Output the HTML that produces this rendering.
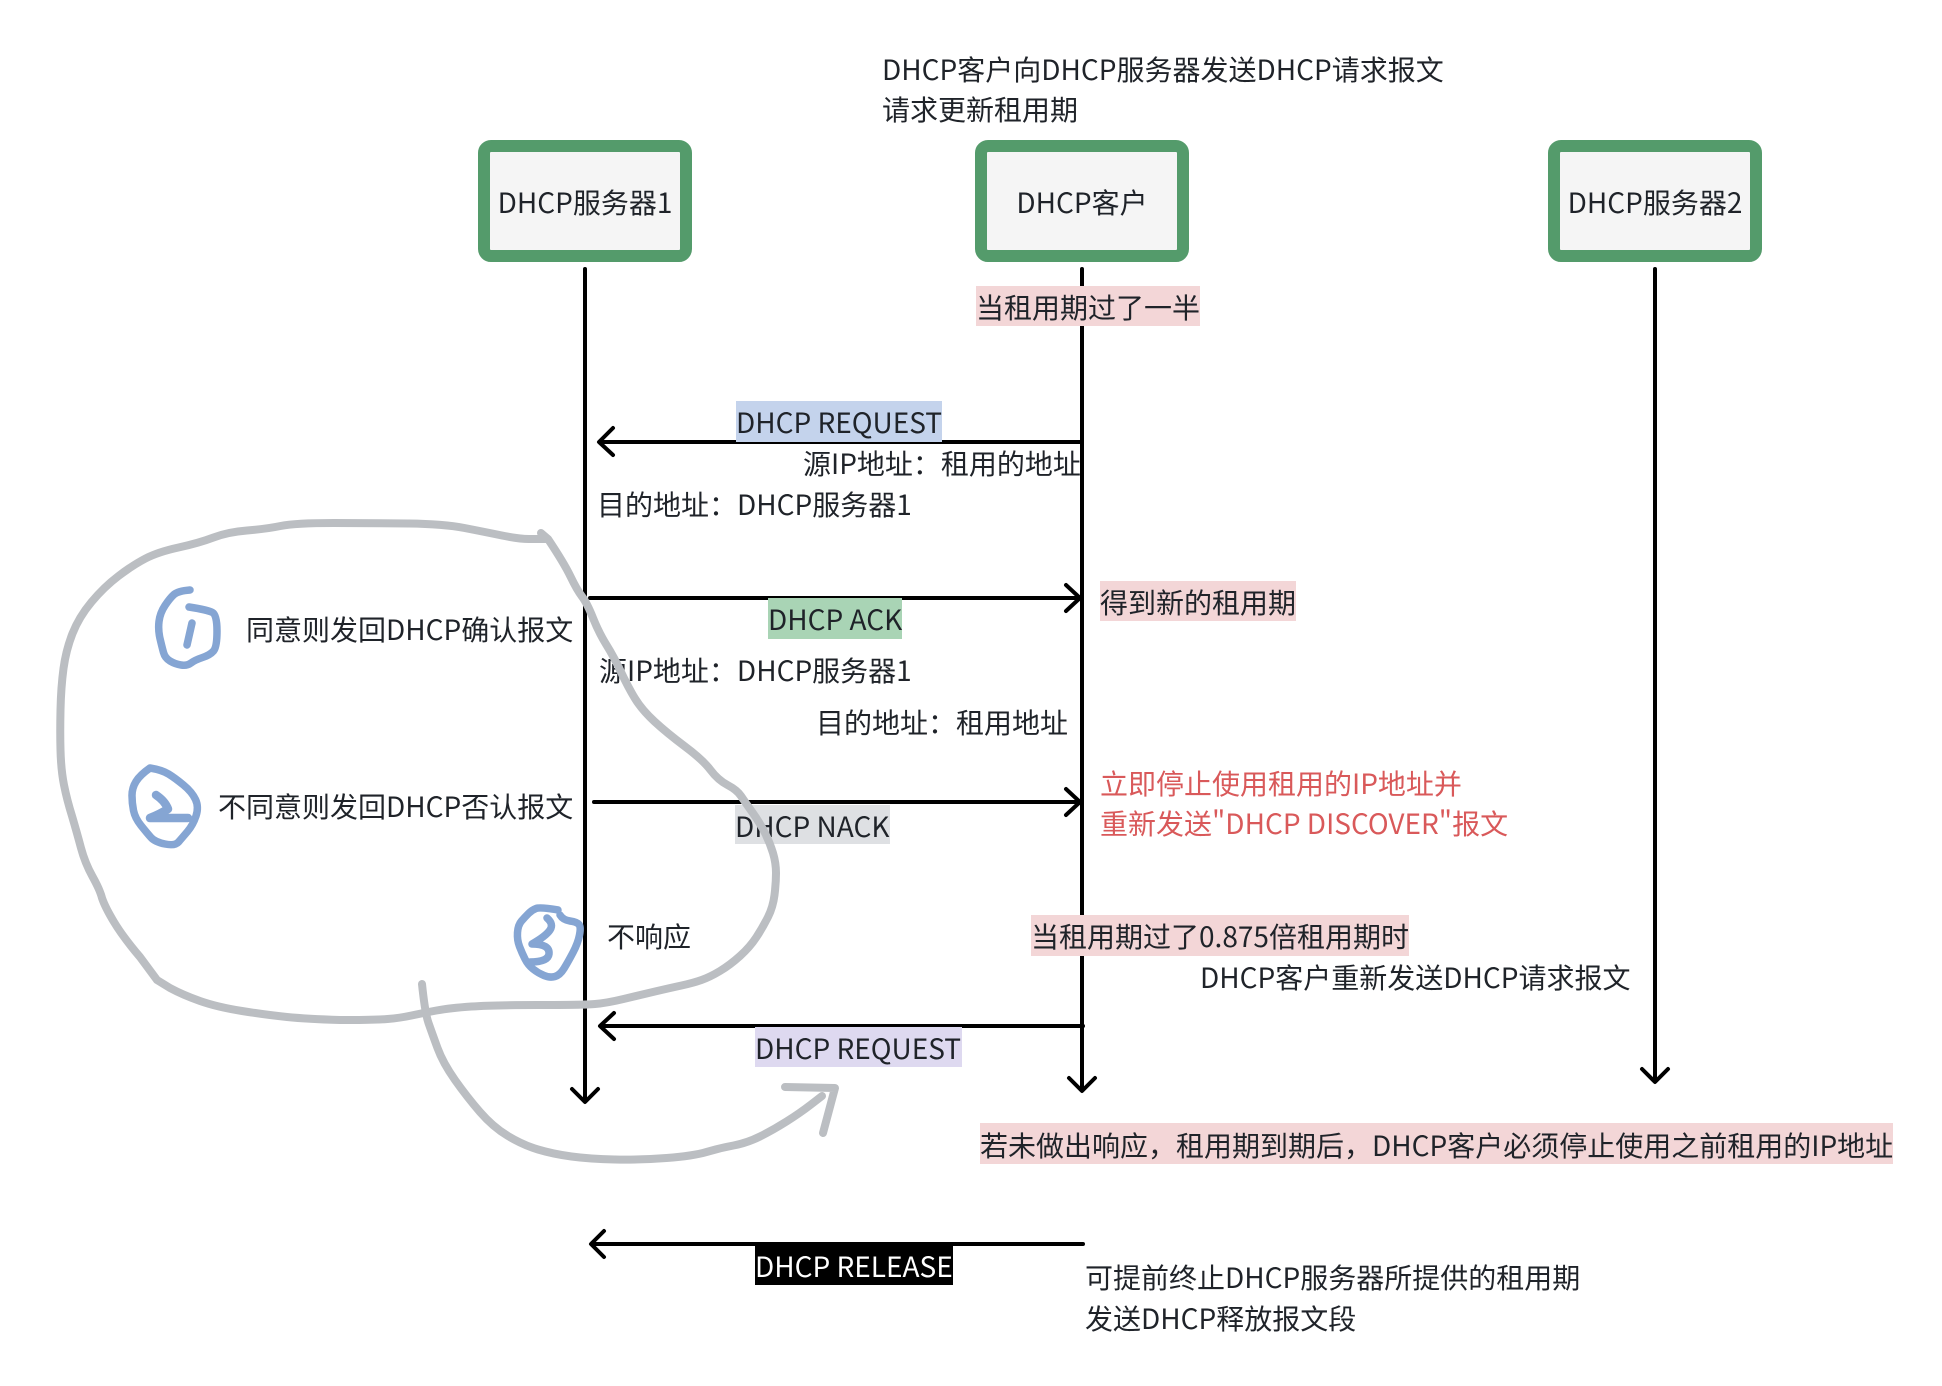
<!DOCTYPE html>
<html lang="zh">
<head>
<meta charset="utf-8">
<title>DHCP</title>
<style>
html,body{margin:0;padding:0;background:#fff}
#p{position:relative;width:1942px;height:1386px;overflow:hidden;background:#fff;font-family:"Noto Sans CJK SC","Liberation Sans",sans-serif;font-size:28px;color:#1f2329}
.t{position:absolute;line-height:43px;height:41px;white-space:nowrap}
.c{text-align:center;width:260px}
.r{color:#d9595a}
svg{position:absolute;left:0;top:0}
</style>
</head>
<body>
<div id="p">
<svg width="1942" height="1386" viewBox="0 0 1942 1386" fill="none">
<g stroke="#549b6b" stroke-width="12" fill="#f5f5f5">
<rect x="484" y="146" width="202" height="110" rx="7"/>
<rect x="981" y="146" width="202" height="110" rx="7"/>
<rect x="1554" y="146" width="202" height="110" rx="7"/>
</g>
<g stroke="#000" stroke-width="4" stroke-linecap="round" stroke-linejoin="round">
<path d="M585 269V1101M572 1089L585 1102L598 1089"/>
<path d="M1082 269V1090M1069 1078L1082 1091L1095 1078"/>
<path d="M1655 269V1081M1642 1069L1655 1082L1668 1069"/>
<path d="M1081 442H600M613 428L599 442L613 455"/>
<path d="M590 598H1080M1066 585L1080 598L1066 611"/>
<path d="M594 802H1080M1066 789L1080 802L1066 815"/>
<path d="M1083 1026H601M614 1013L600 1026L614 1039"/>
<path d="M1083 1244H592M604 1231L591 1244L604 1257"/>
</g>
</svg>

<div class="t" style="left:882px;top:48px">DHCP客户向DHCP服务器发送DHCP请求报文</div>
<div class="t" style="left:882px;top:88px">请求更新租用期</div>
<div class="t c" style="left:455px;top:181px">DHCP服务器1</div>
<div class="t c" style="left:952px;top:181px">DHCP客户</div>
<div class="t c" style="left:1525px;top:181px">DHCP服务器2</div>

<div class="t" style="left:976px;top:286px;width:224px;height:40px;background:#f3d6d7">当租用期过了一半</div>
<div class="t" style="left:736px;top:401px;width:206px;background:#c4d3ec">DHCP REQUEST</div>
<div class="t" style="left:803px;top:442px">源IP地址：租用的地址</div>
<div class="t" style="left:597px;top:483px">目的地址：DHCP服务器1</div>
<div class="t" style="left:768px;top:598px;width:134px;background:#a9d4b5">DHCP ACK</div>
<div class="t" style="left:1100px;top:581px;width:196px;height:40px;background:#f3d6d7">得到新的租用期</div>
<div class="t" style="left:599px;top:649px">源IP地址：DHCP服务器1</div>
<div class="t" style="left:816px;top:701px">目的地址：租用地址</div>
<div class="t r" style="left:1100px;top:762px">立即停止使用租用的IP地址并</div>
<div class="t r" style="left:1100px;top:802px">重新发送"DHCP DISCOVER"报文</div>
<div class="t" style="left:735px;top:805px;width:155px;height:39px;background:#dee0e3">DHCP NACK</div>
<div class="t" style="left:246px;top:608px">同意则发回DHCP确认报文</div>
<div class="t" style="left:218px;top:785px">不同意则发回DHCP否认报文</div>
<div class="t" style="left:607px;top:915px">不响应</div>
<div class="t" style="left:1031px;top:915px;width:378px;background:#f3d6d7">当租用期过了0.875倍租用期时</div>
<div class="t" style="left:1200px;top:956px">DHCP客户重新发送DHCP请求报文</div>
<div class="t" style="left:755px;top:1027px;width:207px;height:40px;background:#ded9f0">DHCP REQUEST</div>
<div class="t" style="left:980px;top:1123px;width:913px;line-height:44px;background:#f3d6d7">若未做出响应，租用期到期后，DHCP客户必须停止使用之前租用的IP地址</div>
<div class="t" style="left:755px;top:1245px;width:198px;height:40px;background:#000;color:#fff">DHCP RELEASE</div>
<div class="t" style="left:1085px;top:1256px">可提前终止DHCP服务器所提供的租用期</div>
<div class="t" style="left:1085px;top:1297px">发送DHCP释放报文段</div>

<svg width="1942" height="1386" viewBox="0 0 1942 1386" fill="none" stroke-linecap="round" stroke-linejoin="round">
<g stroke="#bbbec2" stroke-width="8">
<path d="M541 533L548 539Q564,563 570.5,576.5 Q577,590 582,596.5 Q587,603 593,618 Q599,633 606.5,645 Q614,657 621,672 Q628,687 635,698.5 Q642,710 654.5,721.5 Q667,733 685,746.5 Q703,760 710.5,770 Q718,780 727.5,785 Q737,790 741,796 Q745,802 752.5,812.5 Q760,823 765,833 Q770,843 773,853 Q776,863 776,873 Q776,883 774.5,895 Q773,907 768,917 Q763,927 756.5,937 Q750,947 740,956 Q730,965 720,971 Q710,977 701.5,980 Q693,983 681.5,985.5 Q670,988 655,991.5 Q640,995 623.5,999 Q607,1003 595,1004 Q583,1005 538,1005 Q493,1005 471.5,1006.5 Q450,1008 436.5,1010.5 Q423,1013 411.5,1015.5 Q400,1018 387.5,1019 Q375,1020 340,1020 Q307,1019 287,1017 Q267,1015 242,1011 Q217,1007 200,1001 Q183,995 170,988 L157 980 L140 957 Q123,937 114,922 Q105,907 102,898 Q100,890 92.5,876.5 Q85,863 81,848 Q77,833 72,816 Q67,800 64,785 Q61,770 60.5,750 Q60,733 60.5,710 Q61,687 63.5,668.5 Q66,650 72.5,633.5 Q79,617 91.5,602 Q104,587 118.5,576 Q133,565 145.5,558.5 Q158,552 178.5,547.5 Q199,543 213.5,537.5 Q228,532 247,530.5 Q266,529 280.5,526 Q295,523 334,523 Q373,523 408.5,523.5 Q444,524 464.5,528 Q485,532 502,535.5 Q519,539 529,539 L548,539"/>
<path d="M422 984 Q425,1013 428.5,1023 Q432,1033 437.5,1048 Q443,1063 455,1080 Q467,1097 480,1112 Q493,1127 508,1136 Q523,1145 538,1149.5 Q553,1154 571.5,1156.5 Q590,1159 615,1159.5 Q640,1160 666.5,1158 Q693,1156 706.5,1152 Q720,1148 733.5,1145.5 Q747,1143 760,1136.5 Q773,1130 786.5,1121.5 Q800,1113 811,1104.5 L822,1096"/>
<path d="M785 1087L835 1088L823 1133"/>
</g>
<g stroke="#85a5d3" stroke-width="7.5">
<path d="M190 590 Q178,591 174,594.5 Q170,598 165,605.5 Q160,613 159,621.5 Q158,630 160,638.5 Q162,647 163.5,652.5 Q165,658 170,661 Q175,664 181,665 Q187,666 191,663 Q195,660 202.5,657.5 Q210,655 213.5,651 Q217,647 217,631 Q217,615 212.5,612.5 Q208,610 189,607"/>
<path d="M192 623L187 645"/>
<path d="M150 768 Q140,775 136,781.5 Q132,788 132,795.5 Q132,803 133.5,810.5 Q135,818 141,825.5 Q147,833 151,837.5 Q155,842 165,844 Q175,846 178.5,842 Q182,838 187.5,831.5 Q193,825 196,816 Q199,807 195.5,799.5 Q192,792 183.5,785 Q175,778 168.5,774 Q162,770 150,768"/>
<path d="M156 795Q165 801 168 809Q160 814 150 818L188 818" stroke-width="8.5"/>
<path d="M558 910 Q540,907 536,908.5 Q532,910 528.5,913.5 Q525,917 521.5,921 Q518,925 517.5,932.5 Q517,940 519.5,946.5 Q522,953 525,959 Q528,965 533,969 Q538,973 544,975.5 Q550,978 555,976.5 Q560,975 564,968.5 Q568,962 573,952.5 Q578,943 579.5,935 Q581,927 579,924.5 Q577,922 570,921 Q563,920 560,915"/>
<path d="M547 918Q554 924 550 930Q546 936 532 944Q550 944 549 954Q548 962 530 962"/>
</g>
</svg>
</div>
</body>
</html>
